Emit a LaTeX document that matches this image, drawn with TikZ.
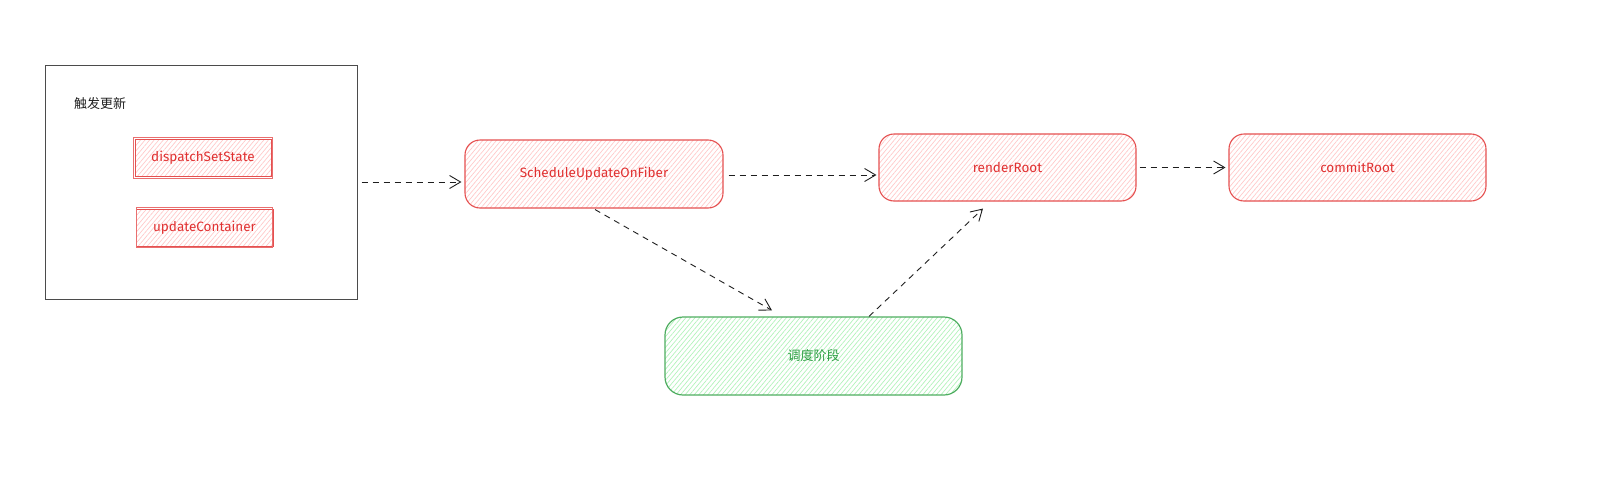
\documentclass[tikz,border=0pt]{standalone}
\usepackage{fontspec}
\setmainfont{Fira Sans}
\newfontfamily\cjk{Noto Sans CJK SC}
\usetikzlibrary{arrows.meta,patterns.meta}
\definecolor{ink}{HTML}{1E1E1E}
\definecolor{rstroke}{HTML}{E03131}
\definecolor{rfill}{HTML}{FFC9C9}
\definecolor{gstroke}{HTML}{2F9E44}
\definecolor{gfill}{HTML}{B2F2BB}
\tikzset{
  hatch/.style={pattern={Lines[angle=50,distance=3.5pt,line width=0.7pt]}},
  redbox/.style={draw=rstroke!85, line width=1.1pt, rounded corners=15pt,
    hatch, pattern color=rfill,
    text=rstroke, font=\fontsize{13.5}{15}\selectfont, inner sep=0pt},
  smallbox/.style={draw=rstroke!85, line width=0.8pt,
    hatch, pattern color=rfill,
    text=rstroke, font=\fontsize{13.5}{15}\selectfont, inner sep=0pt},
  greenbox/.style={draw=gstroke!85, line width=1.2pt, rounded corners=18pt,
    hatch, pattern color=gfill,
    text=gstroke, font=\cjk\fontsize{13}{15}\selectfont, inner sep=0pt},
  framebox/.style={draw=ink!80, line width=1pt, inner sep=0pt},
  arr/.style={draw=ink, line width=0.9pt, dash pattern=on 6pt off 5pt,
    -{Straight Barb[length=11pt,width=13pt,line width=0.9pt]}},
}
\begin{document}
\begin{tikzpicture}[x=1pt,y=-1pt]
\useasboundingbox (0,0) rectangle (1616,498);
\node[framebox, minimum width=312pt, minimum height=234pt] (outer) at (201,182) {};
\node[text=ink, font=\cjk\fontsize{13}{15}\selectfont] (title) at (100,104) {触发更新};
\node[smallbox, minimum width=136pt, minimum height=37pt] (dsp) at (203,157.5) {dispatchSetState};
\draw[rstroke!70, line width=0.6pt] ([xshift=-1.5pt,yshift=1pt]dsp.north west) rectangle ([xshift=1pt,yshift=-1.5pt]dsp.south east);
\node[smallbox, minimum width=137pt, minimum height=37pt] (upd) at (204.5,227.5) {updateContainer};
\draw[rstroke!70, line width=0.6pt] ([xshift=1pt,yshift=1.5pt]upd.north west) rectangle ([xshift=-1.5pt,yshift=-1pt]upd.south east);
\node[redbox, minimum width=258pt, minimum height=68pt] (sched) at (594,174) {ScheduleUpdateOnFiber};
\node[redbox, minimum width=257pt, minimum height=67pt] (render) at (1007.5,167.5) {renderRoot};
\node[redbox, minimum width=257pt, minimum height=67pt] (commit) at (1357.5,167.5) {commitRoot};
\node[greenbox, minimum width=297pt, minimum height=78pt] (phase) at (813.5,356) {调度阶段};
\draw[arr] ([xshift=4pt]outer.east) -- ([xshift=-3pt]outer.east -| sched.west);
\draw[arr] ([xshift=5pt,yshift=-1pt]sched.east) -- ([xshift=-2pt,yshift=-1pt]sched.east -| render.west);
\draw[arr] ([xshift=3pt]render.east) -- ([xshift=-3pt]commit.west);
\draw[arr] ([xshift=1pt,yshift=-1pt]sched.south) -- ([xshift=-41.5pt,yshift=6pt]phase.north);
\draw[arr] ([xshift=55.5pt]phase.north) -- ([xshift=-24.5pt,yshift=-7pt]render.south);
\end{tikzpicture}
\end{document}
